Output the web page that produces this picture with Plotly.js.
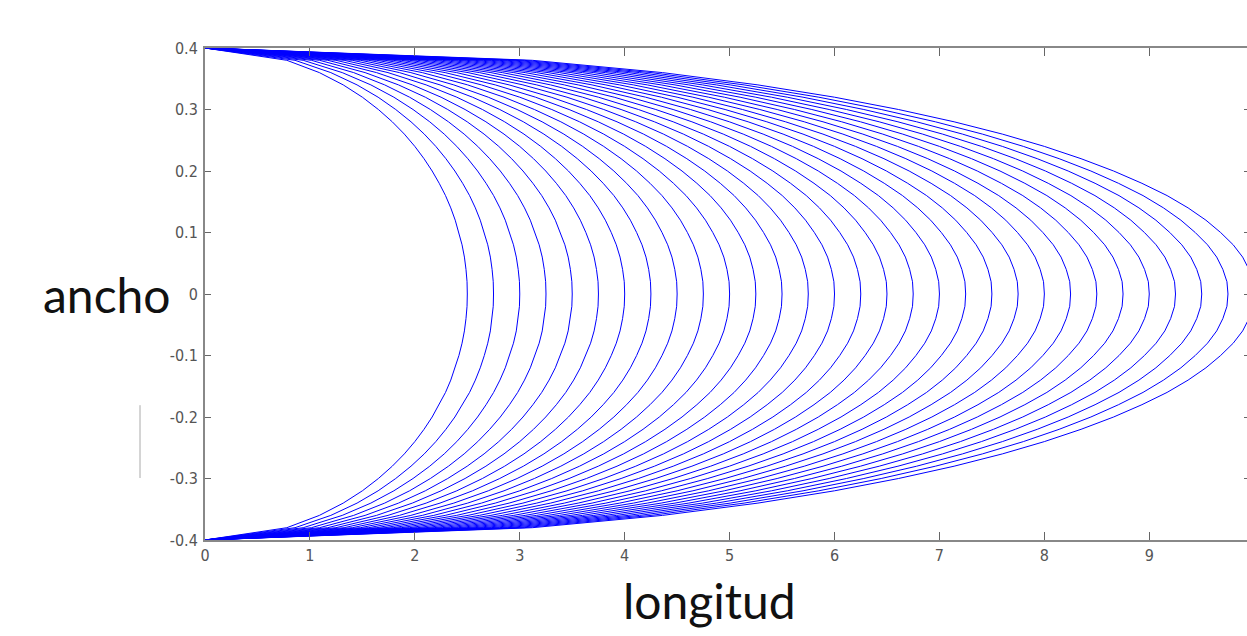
<!DOCTYPE html>
<html>
<head>
<meta charset="utf-8">
<script src="https://cdn.plot.ly/plotly-3.0.1.min.js"></script>
<style>
  html, body { margin: 0; padding: 0; background: #fff; overflow: hidden; }
  #chart { width: 1252px; height: 636px; }
</style>
</head>
<body>
<div id="chart"></div>
<script>
// y samples across the channel width (ancho)
var anchoY = [-0.40, -0.38, -0.36, -0.34, -0.32, -0.30, -0.28, -0.26, -0.24, -0.22, -0.20,
              -0.18, -0.16, -0.14, -0.12, -0.10, -0.08, -0.06, -0.04, -0.02, 0.00,
               0.02, 0.04, 0.06, 0.08, 0.10, 0.12, 0.14, 0.16, 0.18, 0.20,
               0.22, 0.24, 0.26, 0.28, 0.30, 0.32, 0.34, 0.36, 0.38, 0.40];
// normalized profile shape (fraction of the front position) at each y sample
var perfil = [0.000, 0.312, 0.436, 0.527, 0.600, 0.661, 0.714, 0.760, 0.800, 0.835, 0.866,
              0.893, 0.917, 0.937, 0.954, 0.968, 0.980, 0.989, 0.995, 0.999, 1.000,
              0.999, 0.995, 0.989, 0.980, 0.968, 0.954, 0.937, 0.917, 0.893, 0.866,
              0.835, 0.800, 0.760, 0.714, 0.661, 0.600, 0.527, 0.436, 0.312, 0.000];
// front position (longitud at the centreline) of each curve
var longitudes = [2.50, 2.75, 3.00, 3.25, 3.50, 3.75, 4.00, 4.25, 4.50, 4.75,
                  5.00, 5.25, 5.50, 5.75, 6.00, 6.25, 6.50, 6.75, 7.00, 7.25,
                  7.50, 7.75, 8.00, 8.25, 8.50, 8.75, 9.00, 9.25, 9.50, 9.75, 10.00];

var xTicks = [0, 1, 2, 3, 4, 5, 6, 7, 8, 9];
var xTickText = ["0", "1", "2", "3", "4", "5", "6", "7", "8", "9"];
var yTicks = [-0.4, -0.3, -0.2, -0.1, 0, 0.1, 0.2, 0.3, 0.4];
var yTickText = ["-0.4", "-0.3", "-0.2", "-0.1", "0", "0.1", "0.2", "0.3", "0.4"];

var traces = longitudes.map(function (L) {
  return {
    type: 'scatter',
    mode: 'lines',
    x: perfil.map(function (p) { return L * p; }),
    y: anchoY,
    line: { color: 'rgb(0,0,255)', width: 1 },
    hoverinfo: 'skip',
    showlegend: false
  };
});

var tickFont = { family: 'Liberation Sans Narrow, DejaVu Sans Condensed, Arial Narrow, sans-serif', size: 16, color: '#555' };

var layout = {
  width: 1252,
  height: 636,
  margin: { l: 205, r: 2, t: 48, b: 96 },
  paper_bgcolor: '#fff',
  plot_bgcolor: '#fff',
  showlegend: false,
  xaxis: {
    range: [0, 9.96],
    tickvals: xTicks,
    ticktext: xTickText,
    ticks: 'inside',
    ticklen: 8,
    tickcolor: '#666',
    tickwidth: 1,
    showgrid: false,
    zeroline: false,
    showline: true,
    linecolor: '#888',
    linewidth: 2,
    mirror: 'ticks',
    tickfont: tickFont,
    fixedrange: true
  },
  yaxis: {
    range: [-0.4, 0.4],
    tickvals: yTicks,
    ticktext: yTickText,
    ticks: 'inside',
    ticklen: 6,
    tickcolor: '#666',
    tickwidth: 1,
    showgrid: false,
    zeroline: false,
    showline: true,
    linecolor: '#888',
    linewidth: 2,
    mirror: 'ticks',
    tickfont: tickFont,
    ticklabelstandoff: 2,
    fixedrange: true
  },
  annotations: [
    {
      text: 'ancho', xref: 'paper', yref: 'paper',
      x: -0.0938, y: 0.5, xanchor: 'center', yanchor: 'middle',
      showarrow: false,
      font: { family: 'Lato, Open Sans, sans-serif', size: 48, color: '#111' }
    },
    {
      text: 'longitud', xref: 'paper', yref: 'paper',
      x: 0.483, y: -0.122, xanchor: 'center', yanchor: 'middle',
      showarrow: false,
      font: { family: 'Lato, Open Sans, sans-serif', size: 48, color: '#111' }
    }
  ],
  shapes: [
    {
      type: 'line', xref: 'paper', yref: 'paper',
      x0: -0.0622, x1: -0.0622, y0: 0.126, y1: 0.274,
      line: { color: '#aaa', width: 1 }
    }
  ]
};

Plotly.newPlot('chart', traces, layout, { displayModeBar: false, staticPlot: true });
</script>
</body>
</html>
